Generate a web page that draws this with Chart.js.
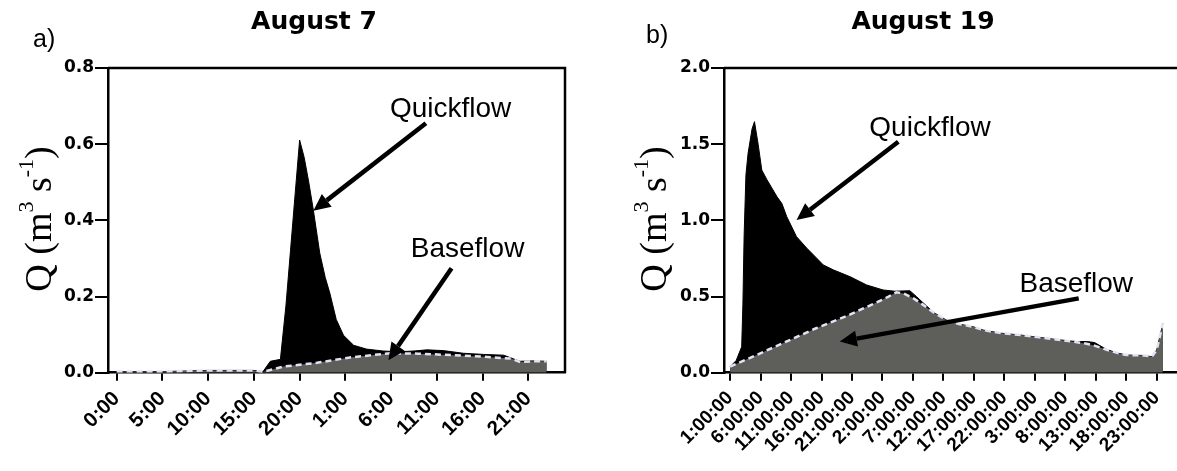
<!DOCTYPE html>
<html><head><meta charset="utf-8">
<script src="https://cdn.jsdelivr.net/npm/chart.js@4.4.1/dist/chart.umd.min.js"></script>
<style>
html,body{margin:0;padding:0;background:#fff;overflow:hidden;width:1177px;height:471px;}
#wrap{position:relative;width:1177px;height:471px;overflow:hidden;}
#c1{position:absolute;left:0;top:0;width:590px;height:471px;}
#c2{position:absolute;left:590px;top:0;width:620px;height:471px;}
</style></head><body>
<div id="wrap"><canvas id="c1" width="590" height="471"></canvas><canvas id="c2" width="620" height="471"></canvas></div>
<script>
// ---- August 7 (hours from 0:00) ----
const aug7Hours = [0, 5, 10, 15, 16, 16.8, 17.9, 18.5, 19.0, 19.5, 20.0, 20.5, 21.0, 21.5, 22.2, 22.8, 23.3, 24.0, 24.8, 25.9, 27.3, 29.1, 30.9, 32.5, 33.9, 35.7, 37.9, 40.1, 42.3, 43.4, 44.1, 45.5, 47.0];
const aug7Total = [0.003, 0.003, 0.006, 0.006, 0.003, 0.030, 0.035, 0.175, 0.320, 0.466, 0.611, 0.565, 0.500, 0.427, 0.314, 0.250, 0.209, 0.140, 0.098, 0.072, 0.062, 0.057, 0.055, 0.057, 0.060, 0.058, 0.051, 0.048, 0.046, 0.036, 0.030, 0.031, 0.030];
const aug7BaseHours = [0, 5, 10, 15, 16, 18.2, 21.9, 25.5, 29.9, 33.0, 36.8, 40.0, 43.1, 44.1, 45.5, 47.0];
const aug7Base = [0.003, 0.003, 0.006, 0.006, 0.002, 0.016, 0.026, 0.040, 0.051, 0.050, 0.046, 0.042, 0.037, 0.028, 0.030, 0.030];
const aug7TickHours = [0, 5, 10, 15, 20, 25, 30, 35, 40, 45];
const aug7TickLabels = ['0:00', '5:00', '10:00', '15:00', '20:00', '1:00', '6:00', '11:00', '16:00', '21:00'];
const aug7YTicks = [0, 0.2, 0.4, 0.6, 0.8];

// ---- August 19 (hours from 0:00) ----
const aug19Hours = [1.0, 2.0, 2.9, 3.1, 3.3, 3.6, 3.95, 4.6, 5.0, 5.6, 6.2, 7.0, 8.7, 9.5, 10.3, 11.9, 13.6, 16.3, 18.0, 20.7, 23.4, 26.1, 28.0, 30.5, 31.6, 32.5, 34.4, 36.3, 38.5, 41.0, 42.5, 45.5, 48.7, 51.7, 54.5, 57.9, 59.5, 60.8, 62.8, 64.5, 66.0, 69.0, 70.2, 71.0, 71.7, 72.0];
const aug19Total = [0.04, 0.08, 0.17, 0.45, 0.90, 1.30, 1.44, 1.60, 1.648, 1.50, 1.33, 1.27, 1.155, 1.11, 1.024, 0.893, 0.817, 0.707, 0.674, 0.630, 0.576, 0.543, 0.535, 0.538, 0.499, 0.465, 0.395, 0.350, 0.320, 0.300, 0.280, 0.259, 0.247, 0.232, 0.218, 0.204, 0.205, 0.198, 0.152, 0.130, 0.116, 0.113, 0.105, 0.150, 0.270, 0.324];
const aug19BaseHours = [1.0, 5, 10, 15, 20, 25, 27.0, 28.3, 29.5, 31.1, 32.5, 34.4, 36.3, 38.5, 41.0, 42.5, 45.5, 48.7, 51.7, 54.5, 57.9, 59.5, 60.8, 62.8, 64.5, 66.0, 69.0, 70.2, 71.0, 71.7, 72.0];
const aug19Base = [0.04, 0.11, 0.20, 0.29, 0.37, 0.46, 0.50, 0.528, 0.52, 0.488, 0.450, 0.395, 0.350, 0.320, 0.300, 0.280, 0.259, 0.247, 0.232, 0.218, 0.200, 0.190, 0.178, 0.150, 0.130, 0.116, 0.113, 0.105, 0.150, 0.270, 0.324];
const aug19TickHours = [1, 6, 11, 16, 21, 26, 31, 36, 41, 46, 51, 56, 61, 66, 71];
const aug19TickLabels = ['1:00:00', '6:00:00', '11:00:00', '16:00:00', '21:00:00', '2:00:00', '7:00:00', '12:00:00', '17:00:00', '22:00:00', '3:00:00', '8:00:00', '13:00:00', '18:00:00', '23:00:00'];
const aug19YTicks = [0, 0.5, 1.0, 1.5, 2.0];

function drawArrow(ctx, x1, y1, x2, y2) {
  const ang = Math.atan2(y2 - y1, x2 - x1);
  const hl = 17, hw = 8;
  const bx = x2 - hl * Math.cos(ang), by = y2 - hl * Math.sin(ang);
  ctx.save();
  ctx.strokeStyle = '#000'; ctx.fillStyle = '#000'; ctx.lineWidth = 4.5; ctx.lineCap = 'butt';
  ctx.beginPath(); ctx.moveTo(x1, y1); ctx.lineTo(bx, by); ctx.stroke();
  ctx.beginPath();
  ctx.moveTo(x2, y2);
  ctx.lineTo(bx + hw * Math.sin(ang), by - hw * Math.cos(ang));
  ctx.lineTo(bx - hw * Math.sin(ang), by + hw * Math.cos(ang));
  ctx.closePath(); ctx.fill();
  ctx.restore();
}

function drawYTitle(ctx, bx, cy) {
  const parts = [['Q (m', 38, 0], ['3', 22, -18], [' s', 38, 0], ['-1', 22, -18], [')', 38, 0]];
  ctx.save();
  ctx.translate(bx, cy); ctx.rotate(-Math.PI / 2);
  let total = 0;
  parts.forEach(p => { ctx.font = p[1] + 'px "Liberation Serif"'; total += ctx.measureText(p[0]).width; });
  let x = -total / 2;
  ctx.textAlign = 'left'; ctx.textBaseline = 'alphabetic'; ctx.fillStyle = '#000';
  parts.forEach(p => { ctx.font = p[1] + 'px "Liberation Serif"'; ctx.fillText(p[0], x, p[2]); x += ctx.measureText(p[0]).width; });
  ctx.restore();
}

const deco = {
  id: 'deco',
  afterDraw(chart, args, o) {
    const ctx = chart.ctx, a = chart.chartArea, xs = chart.scales.x, ys = chart.scales.y;
    ctx.save();
    ctx.strokeStyle = '#000'; ctx.lineWidth = 2.5;
    ctx.beginPath(); ctx.moveTo(a.left, a.top); ctx.lineTo(a.right, a.top); ctx.lineTo(a.right, a.bottom); ctx.stroke();
    ctx.fillStyle = '#000'; ctx.textBaseline = 'alphabetic';
    ctx.textAlign = 'center'; ctx.font = 'bold 25px "DejaVu Sans"';
    ctx.fillText(o.title, o.titleX, o.titleY);
    ctx.textAlign = 'left'; ctx.font = '25px "Liberation Sans"';
    ctx.fillText(o.panel, o.panelX, o.panelY);
    drawYTitle(ctx, o.yTitleX, o.yTitleY);
    ctx.textAlign = 'center'; ctx.font = '28px "Liberation Sans"';
    o.notes.forEach(n => ctx.fillText(n.text, xs.getPixelForValue(n.x), ys.getPixelForValue(n.y)));
    o.arrows.forEach(r => drawArrow(ctx, xs.getPixelForValue(r[0]), ys.getPixelForValue(r[1]), xs.getPixelForValue(r[2]), ys.getPixelForValue(r[3])));
    ctx.restore();
  }
};

const yTickFont = { family: '"DejaVu Sans"', weight: 'bold', size: 17 };

function makeChart(id, c) {
  return new Chart(document.getElementById(id), {
    type: 'line',
    data: {
      datasets: [
        { label: 'Baseflow', data: c.baseH.map((h, i) => ({ x: h, y: c.base[i] })), fill: 'origin',
          backgroundColor: '#5e5e5b', borderColor: '#e2e2f4', borderWidth: 2.5, borderDash: [6, 4],
          pointRadius: 0, tension: 0 },
        { label: 'Quickflow', data: c.totH.map((h, i) => ({ x: h, y: c.tot[i] })), fill: 'origin',
          backgroundColor: '#000', borderColor: '#000', borderWidth: 1, pointRadius: 0, tension: 0 }
      ]
    },
    options: {
      responsive: false, animation: false, devicePixelRatio: 1,
      layout: { padding: c.padding },
      plugins: { legend: { display: false }, tooltip: { enabled: false }, deco: c.deco },
      scales: {
        x: {
          type: 'linear', min: c.xMin, max: c.xMax,
          afterBuildTicks: s => { s.ticks = c.xTicks.map(v => ({ value: v })); },
          afterFit: s => { s.height = 80; },
          ticks: { autoSkip: false, minRotation: 45, maxRotation: 45, color: '#000',
                   font: { family: '"Liberation Sans", Arial', weight: 'bold', size: c.xFontSize }, padding: 6,
                   callback: v => c.xLabels[c.xTicks.indexOf(v)] },
          grid: { drawOnChartArea: false, drawTicks: true, tickLength: 8, color: '#000', lineWidth: 2 },
          border: { display: true, color: '#000', width: 2.5 }
        },
        y: {
          type: 'linear', min: 0, max: c.yMax,
          afterBuildTicks: s => { s.ticks = c.yTicks.map(v => ({ value: v })); },
          afterFit: s => { s.width = 60; },
          ticks: { color: '#000', font: yTickFont, padding: 1, callback: v => Number(v).toFixed(1) },
          grid: { drawOnChartArea: false, drawTicks: true, tickLength: 13, color: '#000', lineWidth: 2 },
          border: { display: true, color: '#000', width: 2.5 }
        }
      }
    },
    plugins: [deco]
  });
}

makeChart('c1', {
  totH: aug7Hours, tot: aug7Total, baseH: aug7BaseHours, base: aug7Base,
  xTicks: aug7TickHours, xLabels: aug7TickLabels, yTicks: aug7YTicks,
  xMin: -0.94, xMax: 49.0, yMax: 0.8, xFontSize: 20.5,
  padding: { left: 48, right: 25, top: 68, bottom: 18.3 },
  deco: {
    title: 'August 7', titleX: 314, titleY: 29, panel: 'a)', panelX: 33, panelY: 47,
    yTitleX: 51, yTitleY: 219,
    notes: [{ text: 'Quickflow', x: 36.5, y: 0.672 }, { text: 'Baseflow', x: 38.35, y: 0.305 }],
    arrows: [[33.8, 0.655, 21.5, 0.425], [36.6, 0.274, 29.7, 0.033]]
  }
});

makeChart('c2', {
  totH: aug19Hours, tot: aug19Total, baseH: aug19BaseHours, base: aug19Base,
  xTicks: aug19TickHours, xLabels: aug19TickLabels, yTicks: aug19YTicks,
  xMin: 0, xMax: 78, yMax: 2.0, xFontSize: 19,
  padding: { left: 74, right: 10.6, top: 68, bottom: 18.3 },
  deco: {
    title: 'August 19', titleX: 333, titleY: 29, panel: 'b)', panelX: 56, panelY: 43,
    yTitleX: 76, yTitleY: 219,
    notes: [{ text: 'Quickflow', x: 33.8, y: 1.554 }, { text: 'Baseflow', x: 57.8, y: 0.532 }],
    arrows: [[28.6, 1.516, 11.9, 1.002], [58.2, 0.488, 19.0, 0.204]]
  }
});
</script>
</body></html>
